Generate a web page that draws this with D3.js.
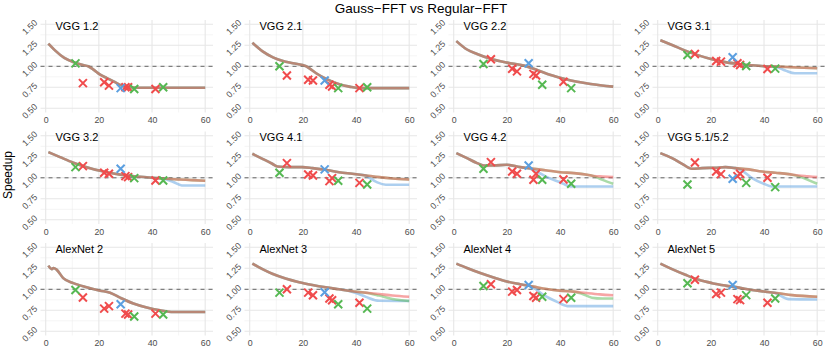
<!DOCTYPE html>
<html>
<head>
<meta charset="utf-8">
<script src="https://cdn.jsdelivr.net/npm/d3@7"></script>
<style>
    body { margin: 0; background: #fff; }
    svg { display: block; font-family: "Liberation Sans", Arial, sans-serif; }
</style>
</head>
<body>
<div id="chart"></div>
<script>
// Panel titles, in facet order (row by row)
const panelNames = ['VGG 1.2', 'VGG 2.1', 'VGG 2.2', 'VGG 3.1',
    'VGG 3.2', 'VGG 4.1', 'VGG 4.2', 'VGG 5.1/5.2',
    'AlexNet 2', 'AlexNet 3', 'AlexNet 4', 'AlexNet 5'];

const xTicks = [0, 20, 40, 60];
const yTicks = [0.5, 0.75, 1, 1.25, 1.5];

// Measured points (x is shared by every panel)
const ptRedX = [14, 22, 23.8, 30, 31, 41.3];
const ptGreenX = [11.2, 33.3, 44.2];
const ptBlueX = [28.2];

const ptRedY = [
    [0.80, 0.81, 0.77, 0.75, 0.75, 0.73],
    [0.89, 0.84, 0.83, 0.78, 0.76, 0.74],
    [1.083, 0.97, 0.94, 0.91, 0.89, 0.817],
    [1.147, 1.063, 1.056, 1.036, 1.016, 0.968],
    [1.139, 1.06, 1.048, 1.02, 1.008, 0.968],
    [1.175, 1.04, 1.028, 0.96, 0.996, 0.94],
    [1.187, 1.075, 1.048, 0.976, 1.048, 0.98],
    [1.183, 1.075, 1.044, 1.02, 1.048, 1.0],
    [0.903, 0.77, 0.80, 0.71, 0.70, 0.71],
    [1.0, 0.96, 0.93, 0.89, 0.87, 0.84],
    [1.06, 0.972, 0.992, 0.92, 0.90, 0.883],
    [1.113, 0.944, 0.96, 0.883, 0.871, 0.84]
];
const ptGreenY = [
    [1.035, 0.73, 0.75],
    [1.0, 0.74, 0.75],
    [1.028, 0.78, 0.74],
    [1.135, 1.004, 0.972],
    [1.127, 0.996, 0.968],
    [1.06, 0.964, 0.92],
    [1.107, 0.976, 0.929],
    [0.92, 0.94, 0.889],
    [0.992, 0.677, 0.70],
    [0.96, 0.823, 0.77],
    [1.04, 0.911, 0.90],
    [1.073, 0.931, 0.891]
];
const ptBlueY = [0.74, 0.83, 1.036, 1.107, 1.107, 1.1, 1.147, 0.988, 0.823, 0.964, 1.052, 1.052];

// Model curves as [x, speedup] pairs
const redLines = [
    [[1, 1.27], [3.5, 1.19], [7, 1.10], [11.4, 1.04], [14, 1.015], [16, 1.0], [18, 0.96], [20.5, 0.90], [23, 0.86], [25.5, 0.82], [28.6, 0.77], [30.5, 0.75], [35, 0.745], [60, 0.745]],
    [[1, 1.28], [5, 1.175], [8.75, 1.107], [12.5, 1.063], [16.25, 1.036], [21.25, 1.0], [25, 0.917], [28.75, 0.85], [33.75, 0.786], [37.5, 0.758], [41.25, 0.74], [60, 0.74]],
    [[1, 1.30], [5, 1.20], [8.8, 1.147], [13.8, 1.09], [20, 1.044], [26.4, 1.008], [31.4, 0.956], [36.5, 0.897], [41.5, 0.853], [46.5, 0.817], [51.5, 0.79], [60, 0.758]],
    [[1, 1.31], [5.4, 1.254], [10.4, 1.187], [15.4, 1.13], [20.4, 1.083], [25.4, 1.05], [30.4, 1.028], [35.4, 1.012], [40.4, 1.0], [45.4, 0.996], [50, 0.99], [55, 0.982], [60, 0.976]],
    [[1, 1.306], [5.4, 1.246], [10.4, 1.18], [15.4, 1.127], [20.5, 1.083], [25.5, 1.052], [30.5, 1.028], [35.5, 1.012], [40.5, 1.0], [45.5, 0.988], [50.5, 0.98], [55, 0.972], [60, 0.964]],
    [[1, 1.286], [4.8, 1.226], [8.5, 1.167], [10.4, 1.135], [14.8, 1.127], [19.8, 1.127], [23.6, 1.115], [28.6, 1.095], [33.6, 1.067], [38.6, 1.048], [43.7, 1.028], [48.7, 1.008], [53.7, 0.992], [60, 0.98]],
    [[1, 1.294], [5, 1.234], [8.8, 1.175], [11.3, 1.147], [15, 1.147], [20, 1.155], [25, 1.127], [30.1, 1.107], [35.1, 1.087], [40.1, 1.067], [45.2, 1.056], [50.2, 1.036], [52.7, 1.022], [56, 1.015], [60, 1.008]],
    [[1, 1.294], [5.4, 1.234], [9.2, 1.167], [12.9, 1.107], [16.7, 1.115], [21.7, 1.12], [25.5, 1.127], [29.2, 1.115], [34.3, 1.1], [39.3, 1.075], [44.3, 1.06], [49.3, 1.044], [53, 1.028], [56.5, 1.018], [60, 1.008]],
    [[1, 1.282], [2.3, 1.24], [2.9, 1.254], [4.1, 1.234], [6.6, 1.133], [10.4, 1.073], [15.4, 1.024], [20.5, 0.984], [24.2, 0.96], [28, 0.9], [33, 0.83], [38, 0.782], [43, 0.75], [48, 0.73], [60, 0.73]],
    [[1, 1.306], [4.8, 1.24], [8.5, 1.185], [13.5, 1.129], [18.6, 1.085], [23.6, 1.052], [28.6, 1.024], [33.6, 1.0], [38.6, 0.976], [43.7, 0.96], [48.7, 0.944], [53.7, 0.927], [60, 0.911]],
    [[1, 1.306], [5, 1.254], [10, 1.194], [15, 1.141], [20, 1.093], [25, 1.06], [30, 1.032], [35, 1.004], [40, 0.984], [45, 0.972], [50, 0.955], [55, 0.94], [60, 0.93]],
    [[1, 1.306], [5.4, 1.24], [10.4, 1.173], [15.4, 1.113], [20.5, 1.073], [25.5, 1.044], [30.5, 1.02], [35.5, 0.992], [40.5, 0.972], [45.5, 0.952], [50.6, 0.931], [60, 0.911]]
];
const greenLines = [
    redLines[0],
    redLines[1],
    redLines[2],
    redLines[3],
    redLines[4],
    redLines[5],
    [[1, 1.294], [5, 1.234], [8.8, 1.175], [11.3, 1.147], [15, 1.147], [20, 1.155], [25, 1.127], [30.1, 1.107], [35.1, 1.087], [40.1, 1.067], [45.2, 1.056], [50.2, 1.036], [52.7, 1.02], [56, 0.975], [60, 0.93]],
    [[1, 1.294], [5.4, 1.234], [9.2, 1.167], [12.9, 1.107], [16.7, 1.115], [21.7, 1.12], [25.5, 1.127], [29.2, 1.115], [34.3, 1.1], [39.3, 1.075], [44.3, 1.06], [49.3, 1.044], [53, 1.02], [56.5, 0.975], [60, 0.929]],
    redLines[8],
    [[1, 1.306], [4.8, 1.24], [8.5, 1.185], [13.5, 1.129], [18.6, 1.085], [23.6, 1.052], [28.6, 1.024], [33.6, 1.0], [38.6, 0.976], [43.7, 0.96], [48.7, 0.925], [53.7, 0.885], [60, 0.86]],
    [[1, 1.306], [5, 1.254], [10, 1.194], [15, 1.141], [20, 1.093], [25, 1.06], [30, 1.032], [35, 1.004], [40, 0.984], [45, 0.972], [48, 0.95], [52, 0.9], [56, 0.89], [60, 0.89]],
    redLines[11]
];
const blueLines = [
    redLines[0],
    redLines[1],
    redLines[2],
    [[1, 1.31], [5.4, 1.254], [10.4, 1.187], [15.4, 1.13], [20.4, 1.083], [25.4, 1.05], [30.4, 1.028], [35.4, 1.012], [40.4, 1.0], [44.7, 0.99], [48, 0.95], [51.6, 0.917], [60, 0.917]],
    [[1, 1.306], [5.4, 1.246], [10.4, 1.18], [15.4, 1.127], [20.5, 1.083], [25.5, 1.052], [30.5, 1.028], [35.5, 1.012], [40.5, 1.0], [44.3, 0.99], [48, 0.95], [51.2, 0.909], [60, 0.909]],
    [[1, 1.286], [4.8, 1.226], [8.5, 1.167], [10.4, 1.135], [14.8, 1.127], [19.8, 1.127], [23.6, 1.115], [28.6, 1.095], [33.6, 1.067], [38.6, 1.048], [43.7, 1.028], [45, 1.0], [48, 0.945], [51.2, 0.917], [60, 0.917]],
    [[1, 1.294], [5, 1.234], [8.8, 1.175], [11.3, 1.147], [15, 1.147], [20, 1.155], [25, 1.127], [29, 1.105], [32, 1.06], [35.1, 1.008], [40, 0.948], [44, 0.897], [60, 0.897]],
    [[1, 1.294], [5.4, 1.234], [9.2, 1.167], [12.9, 1.107], [16.7, 1.115], [21.7, 1.12], [25.5, 1.127], [29.2, 1.115], [31.5, 1.09], [35.5, 0.996], [39.9, 0.929], [43, 0.897], [60, 0.897]],
    redLines[8],
    [[1, 1.306], [4.8, 1.24], [8.5, 1.185], [13.5, 1.129], [18.6, 1.085], [23.6, 1.052], [28.6, 1.024], [33.6, 1.0], [36, 0.99], [40, 0.955], [43.7, 0.91], [48.7, 0.863], [60, 0.86]],
    [[1, 1.306], [5, 1.254], [10, 1.194], [15, 1.141], [20, 1.093], [25, 1.06], [29, 1.036], [33.9, 0.93], [38.9, 0.85], [42.7, 0.8], [60, 0.8]],
    [[1, 1.306], [5.4, 1.24], [10.4, 1.173], [15.4, 1.113], [20.5, 1.073], [25.5, 1.044], [30.5, 1.02], [35.5, 0.992], [40.5, 0.972], [44, 0.958], [49.3, 0.883], [60, 0.879]]
];

const colors = { red: '#f04b4c', green: '#55b852', blue: '#5b9fe0' };

// Facet geometry (pixels)
const width = 830,
    height = 351,
    colPitch = 204,
    rowPitch = 111.5,
    pxPerX = 2.658,
    pxPerY = 84,
    xDomain = [-1.95, 62.95],
    yDomain = [0.45, 1.55],
    panelW = (xDomain[1] - xDomain[0]) * pxPerX,
    panelH = (yDomain[1] - yDomain[0]) * pxPerY;

const svg = d3.select('#chart')
    .append('svg')
    .attr('width', width)
    .attr('height', height);

svg.append('text')
    .attr('x', 421)
    .attr('y', 13.3)
    .attr('text-anchor', 'middle')
    .style('font-size', '13.5px')
    .style('fill', '#000')
    .text('Gauss\u2212FFT vs Regular\u2212FFT');

svg.append('text')
    .attr('transform', 'translate(12,175) rotate(-90)')
    .attr('text-anchor', 'middle')
    .style('font-size', '12px')
    .style('fill', '#000')
    .text('Speedup');

const x = d3.scaleLinear().domain(xDomain).range([0, panelW]),
    y = d3.scaleLinear().domain(yDomain).range([panelH, 0]);

const line = d3.line()
    .x(d => x(d[0]))
    .y(d => y(d[1]))
    .curve(d3.curveMonotoneX);

const cross = 'M-4,-4L4,4M-4,4L4,-4';

panelNames.forEach((name, i) => {
    const c = i % 4,
        r = Math.floor(i / 4),
        left = 45.7 + c * colPitch + xDomain[0] * pxPerX,
        top = 66.3 + r * rowPitch - (yDomain[1] - 1) * pxPerY;

    const g = svg.append('g').attr('transform', `translate(${left},${top})`);

    // grid: minor first, then major
    const xMinor = [10, 30, 50],
        yMinor = [0.625, 0.875, 1.125, 1.375];
    g.selectAll('.xminor').data(xMinor).enter().append('line')
        .attr('x1', d => x(d)).attr('x2', d => x(d))
        .attr('y1', 0).attr('y2', panelH)
        .style('stroke', '#ebebeb').style('stroke-width', 0.55);
    g.selectAll('.yminor').data(yMinor).enter().append('line')
        .attr('x1', 0).attr('x2', panelW)
        .attr('y1', d => y(d)).attr('y2', d => y(d))
        .style('stroke', '#ebebeb').style('stroke-width', 0.55);
    g.selectAll('.xmajor').data(xTicks).enter().append('line')
        .attr('x1', d => x(d)).attr('x2', d => x(d))
        .attr('y1', 0).attr('y2', panelH)
        .style('stroke', '#e6e6e6').style('stroke-width', 1.07);
    g.selectAll('.ymajor').data(yTicks).enter().append('line')
        .attr('x1', 0).attr('x2', panelW)
        .attr('y1', d => y(d)).attr('y2', d => y(d))
        .style('stroke', '#e6e6e6').style('stroke-width', 1.07);

    // axes
    const xAxis = g.append('g')
        .attr('transform', `translate(0,${panelH})`)
        .call(d3.axisBottom(x).tickValues(xTicks).tickSize(0).tickPadding(4.5));
    const yAxis = g.append('g')
        .call(d3.axisLeft(y).tickValues(yTicks).tickSize(0).tickFormat(d3.format('.2f')));
    [xAxis, yAxis].forEach(a => {
        a.select('.domain').remove();
        a.selectAll('text')
            .style('font-family', '"Liberation Sans", Arial, sans-serif')
            .style('font-size', '8.8px')
            .style('fill', '#4d4d4d');
    });
    yAxis.selectAll('text')
        .attr('x', null)
        .attr('dy', '0.35em')
        .attr('text-anchor', 'middle')
        .attr('transform', 'translate(-10.8,2.3) rotate(-45)');

    // reference line at speedup 1
    g.append('line')
        .attr('x1', 0).attr('x2', panelW)
        .attr('y1', y(1)).attr('y2', y(1))
        .style('stroke', '#555')
        .style('stroke-width', 0.9)
        .style('stroke-dasharray', '4,4');

    // model curves
    [[blueLines[i], colors.blue], [greenLines[i], colors.green], [redLines[i], colors.red]]
        .forEach(([pts, col]) => {
            g.append('path')
                .attr('d', line(pts))
                .style('fill', 'none')
                .style('stroke', col)
                .style('stroke-opacity', 0.5)
                .style('stroke-width', 2.6)
                .style('stroke-linejoin', 'round');
        });

    // measured points
    const points = [].concat(
        ptRedX.map((px, k) => ({ x: px, y: ptRedY[i][k], col: colors.red })),
        ptGreenX.map((px, k) => ({ x: px, y: ptGreenY[i][k], col: colors.green })),
        ptBlueX.map(px => ({ x: px, y: ptBlueY[i], col: colors.blue }))
    );
    g.selectAll('.pt').data(points).enter().append('path')
        .attr('d', cross)
        .attr('transform', d => `translate(${x(d.x)},${y(d.y)})`)
        .style('fill', 'none')
        .style('stroke', d => d.col)
        .style('stroke-width', 2);

    g.append('text')
        .attr('x', x(3.7))
        .attr('y', y(1.5) + 5.5)
        .style('font-size', '11px')
        .style('fill', '#000')
        .text(name);
});
</script>
</body>
</html>
